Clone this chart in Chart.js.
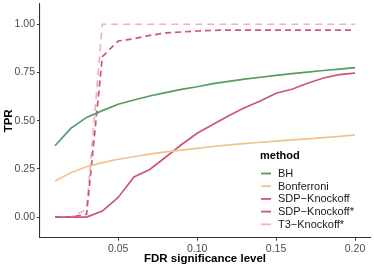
<!DOCTYPE html>
<html>
<head>
<meta charset="utf-8">
<script src="https://cdn.jsdelivr.net/npm/chart.js@4/dist/chart.umd.min.js"></script>
<style>
  body { margin: 0; background: #fff; }
  #wrap { width: 374px; height: 267px; }
</style>
</head>
<body>
<div id="wrap"><canvas id="myChart" width="374" height="267"></canvas></div>
<script>
// FDR levels on the x axis
const fdrLevels = [0.01, 0.02, 0.03, 0.04, 0.05, 0.06, 0.07, 0.08, 0.09, 0.10,
                   0.11, 0.12, 0.13, 0.14, 0.15, 0.16, 0.17, 0.18, 0.19, 0.20];

const bh = [0.37, 0.46, 0.517, 0.552, 0.585, 0.607, 0.628, 0.645, 0.662, 0.676,
            0.692, 0.704, 0.715, 0.725, 0.735, 0.744, 0.752, 0.76, 0.767, 0.775];
const bonferroni = [0.187, 0.23, 0.261, 0.282, 0.30, 0.313, 0.326, 0.338, 0.347, 0.356,
                    0.366, 0.374, 0.381, 0.388, 0.394, 0.40, 0.406, 0.412, 0.418, 0.426];
const sdpKnockoff = [0, 0, 0, 0.031, 0.102, 0.208, 0.247, 0.31, 0.375, 0.435,
                     0.48, 0.525, 0.567, 0.602, 0.642, 0.663, 0.694, 0.721, 0.739, 0.747];
const sdpKnockoffStar = [0, 0, 0.015, 0.832, 0.913, 0.925, 0.942, 0.955, 0.96, 0.965,
                         0.968, 0.97, 0.97, 0.97, 0.97, 0.97, 0.97, 0.97, 0.97, 0.97];
const t3KnockoffStar = [0, 0, 0.04, 1, 1, 1, 1, 1, 1, 1,
                        1, 1, 1, 1, 1, 1, 1, 1, 1, 1];

const methods = ['BH', 'Bonferroni', 'SDP\u2212Knockoff', 'SDP\u2212Knockoff*', 'T3\u2212Knockoff*'];
const xTicks = [0.05, 0.10, 0.15, 0.20];
const yTicks = [0, 0.25, 0.50, 0.75, 1.00];

const colors = ['#539c63', '#f2c28f', '#cc5579', '#cc5579', '#edb2c5'];
const dashes = [[], [], [], [6, 4], [7, 5]];
const series = [bh, bonferroni, sdpKnockoff, sdpKnockoffStar, t3KnockoffStar];

const toXY = arr => arr.map((v, i) => ({ x: fdrLevels[i], y: v }));

// ggplot style legend drawn inside the panel
const methodLegend = {
  id: 'methodLegend',
  afterDraw(chart) {
    const c = chart.ctx;
    const x0 = 260, y0 = 156;
    c.save();
    c.textBaseline = 'middle';
    c.textAlign = 'left';
    c.fillStyle = '#000';
    c.font = 'bold 11px "Liberation Sans", Arial, sans-serif';
    c.fillText('method', x0, y0);
    c.font = '11px "Liberation Sans", Arial, sans-serif';
    chart.data.datasets.forEach((ds, i) => {
      const y = y0 + 17.5 + i * 12.7;
      c.strokeStyle = ds.borderColor;
      c.lineWidth = 1.8;
      c.beginPath();
      c.moveTo(x0 + 1, y);
      c.lineTo(x0 + 11, y);
      c.stroke();
      c.fillStyle = '#1a1a1a';
      c.fillText(ds.label, x0 + 18, y + 0.5);
    });
    c.restore();
  }
};

// drop the label padding chart.js reserves so the panel fills like ggplot
const noPad = s => { s.paddingTop = 0; s.paddingBottom = 0; s.paddingLeft = 0; s.paddingRight = 0; };

const ctx = document.getElementById('myChart');
const myChart = new Chart(ctx, {
  type: 'line',
  data: {
    datasets: methods.map((m, i) => ({
      label: m,
      data: toXY(series[i]),
      borderColor: colors[i],
      backgroundColor: colors[i],
      borderWidth: 1.7,
      borderDash: dashes[i],
      pointRadius: 0,
      tension: 0,
      fill: false
    }))
  },
  options: {
    responsive: false,
    animation: false,
    layout: { padding: { top: 4, right: 4, left: 0, bottom: 0 } },
    plugins: {
      legend: { display: false },
      tooltip: { enabled: false }
    },
    scales: {
      x: {
        type: 'linear',
        min: 0.0005,
        max: 0.2095,
        afterBuildTicks: s => { s.ticks = xTicks.map(v => ({ value: v })); },
        afterFit: s => { s.height = 29.3; noPad(s); },
        ticks: {
          color: '#4d4d4d',
          font: { family: '"Liberation Sans", Arial, sans-serif', size: 10.5 },
          padding: 2,
          maxRotation: 0,
          callback: v => v.toFixed(2)
        },
        grid: { drawOnChartArea: false, drawTicks: true, tickLength: 3, color: '#333' },
        border: { display: true, color: '#333', width: 1.1 },
        title: {
          display: true,
          text: 'FDR significance level',
          color: '#000',
          font: { family: '"Liberation Sans", Arial, sans-serif', size: 11.5, weight: 'bold' },
          padding: { top: 0, bottom: 1 }
        }
      },
      y: {
        min: -0.107,
        max: 1.105,
        afterBuildTicks: s => { s.ticks = yTicks.map(v => ({ value: v })); },
        afterFit: s => { s.width = 40; noPad(s); },
        ticks: {
          color: '#4d4d4d',
          font: { family: '"Liberation Sans", Arial, sans-serif', size: 10.5 },
          padding: 2,
          callback: v => v.toFixed(2)
        },
        grid: { drawOnChartArea: false, drawTicks: true, tickLength: 3, color: '#333' },
        border: { display: true, color: '#333', width: 1.1 },
        title: {
          display: true,
          text: 'TPR',
          color: '#000',
          font: { family: '"Liberation Sans", Arial, sans-serif', size: 11.5, weight: 'bold' },
          padding: { top: 2, bottom: 0 }
        }
      }
    }
  },
  plugins: [methodLegend]
});
</script>
</body>
</html>
